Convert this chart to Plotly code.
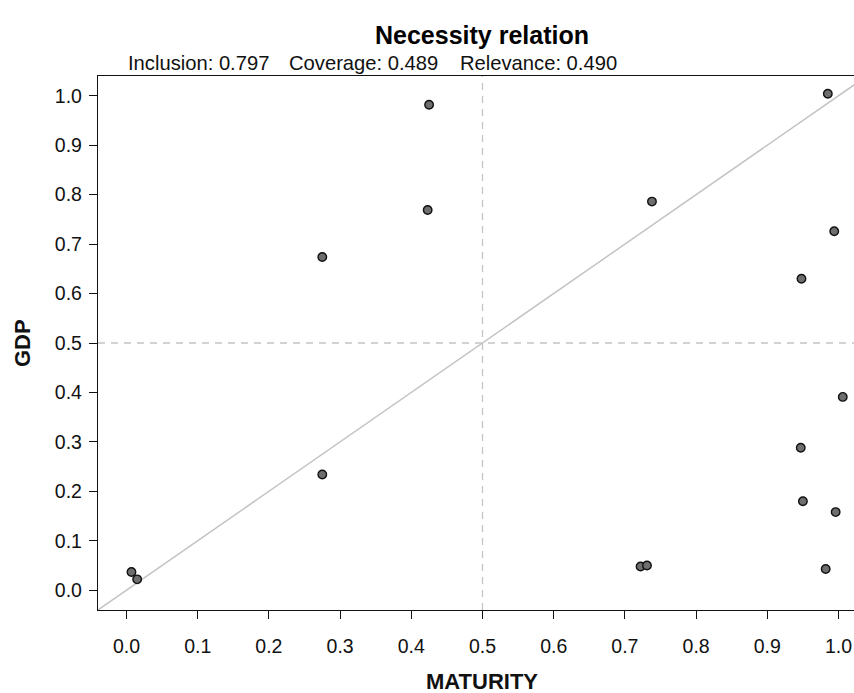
import plotly.graph_objects as go

# Data
maturity = [0.007, 0.015, 0.275, 0.275, 0.423, 0.425, 0.722, 0.731, 0.738,
            0.947, 0.948, 0.950, 0.982, 0.985, 0.994, 0.996, 1.006]
gdp = [0.037, 0.022, 0.234, 0.674, 0.769, 0.982, 0.048, 0.050, 0.786,
       0.288, 0.630, 0.180, 0.043, 1.004, 0.726, 0.158, 0.391]
tick_vals = [0.0, 0.1, 0.2, 0.3, 0.4, 0.5, 0.6, 0.7, 0.8, 0.9, 1.0]
tick_text = ["0.0", "0.1", "0.2", "0.3", "0.4", "0.5", "0.6", "0.7", "0.8", "0.9", "1.0"]
diag = [-0.04, 1.04]
stats = ["Inclusion: 0.797", "Coverage: 0.489", "Relevance: 0.490"]
stat_x = [126, 287, 458]  # pixel starts

FONT = "Liberation Sans, Arial, sans-serif"
W, H = 854, 693
L, R, T, B = 98, 0, 76, 83

fig = go.Figure()
# diagonal y = x
fig.add_trace(go.Scatter(x=diag, y=diag, mode="lines",
                         line=dict(color="#c4c4c4", width=1.5),
                         hoverinfo="skip", showlegend=False))
fig.add_hline(y=0.5, line=dict(color="#c4c4c4", width=1.3, dash="7px,6px"))
fig.add_vline(x=0.5, line=dict(color="#c4c4c4", width=1.3, dash="7px,6px"))
fig.add_trace(go.Scatter(x=maturity, y=gdp, mode="markers",
                         marker=dict(size=8.5, color="#6e6e6e",
                                     line=dict(color="#111111", width=1.4)),
                         showlegend=False))

x_right = (W - 126.5) / 712.0

fig.update_layout(
    width=W, height=H,
    margin=dict(l=L, r=R, t=T, b=B),
    paper_bgcolor="white", plot_bgcolor="white",
    font=dict(family=FONT, color="#111111"),
    xaxis=dict(range=[-0.04, x_right], tickvals=tick_vals, ticktext=tick_text,
               showgrid=False, zeroline=False, showline=True, mirror=True,
               linecolor="#111111", linewidth=1.4,
               ticks="outside", ticklen=8, tickwidth=1.3, tickcolor="#111111",
               tickfont=dict(size=19.5, family=FONT, color="#111111"),
               ticklabelstandoff=10),
    yaxis=dict(range=[-0.04, 1.04], tickvals=tick_vals, ticktext=tick_text,
               showgrid=False, zeroline=False, showline=True, mirror=False,
               linecolor="#111111", linewidth=1.4,
               ticks="outside", ticklen=8, tickwidth=1.3, tickcolor="#111111",
               tickfont=dict(size=19.5, family=FONT, color="#111111"),
               ticklabelstandoff=3),
)

pw = W - L - R
def px_to_paper_x(px):
    return (px - L) / pw

ph = H - T - B
def py_to_paper_y(py):
    return (H - B - py) / ph

# title
fig.add_annotation(text="<b>Necessity relation</b>", x=0.5, xref="x",
                   y=py_to_paper_y(35), yref="paper", yanchor="middle",
                   showarrow=False, font=dict(size=25, family=FONT, color="#000000"))
for s, sx in zip(stats, stat_x):
    fig.add_annotation(text=s, x=px_to_paper_x(sx), xref="paper", xanchor="left",
                       y=py_to_paper_y(63), yref="paper", yanchor="middle",
                       showarrow=False, font=dict(size=20.2, family=FONT, color="#111111"))
# axis titles
fig.add_annotation(text="<b>MATURITY</b>", x=0.5, xref="x",
                   y=py_to_paper_y(681), yref="paper", yanchor="middle",
                   showarrow=False, font=dict(size=22, family=FONT, color="#111111"))
fig.add_annotation(text="<b>GDP</b>", x=px_to_paper_x(22), xref="paper", xanchor="center",
                   y=0.5, yref="y", yanchor="middle", textangle=-90,
                   showarrow=False, font=dict(size=22, family=FONT, color="#111111"))

fig.write_html("out.html", config={"displayModeBar": False},
               post_script="document.body.style.margin='0';document.body.style.padding='0';"
                           "document.body.style.overflow='hidden';")
